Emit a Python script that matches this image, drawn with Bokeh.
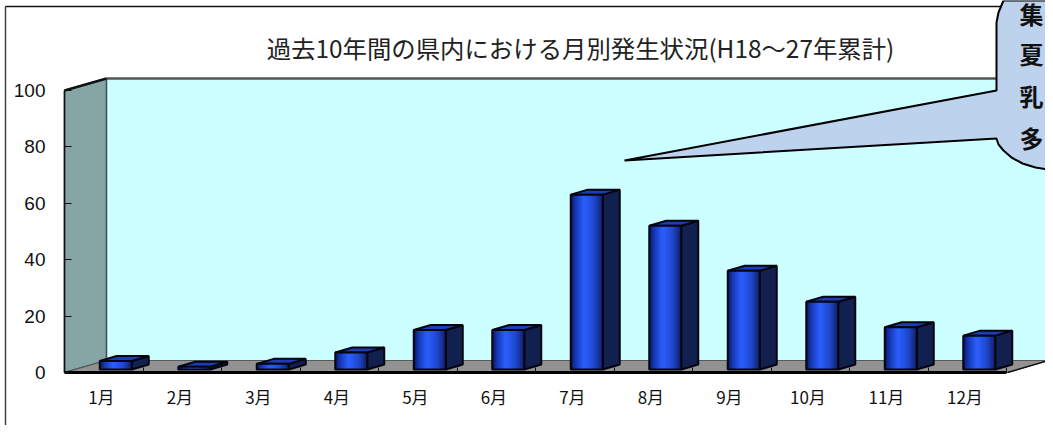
from bokeh.plotting import figure
from bokeh.models import Range1d, FixedTicker
from bokeh.core.properties import value
from bokeh.embed import file_html
from bokeh.resources import INLINE

months = ["1月", "2月", "3月", "4月", "5月", "6月", "7月", "8月", "9月", "10月", "11月", "12月"]
cases = [3, 1, 2, 6, 14, 14, 62, 51, 35, 24, 15, 12]
y_ticks = [0, 20, 40, 60, 80, 100]
title_text = "過去10年間の県内における月別発生状況(H18～27年累計)"
callout_chars = ["集", "夏", "乳", "多"]

W, H = 1045, 425
PAGE = 0
X0, STEP = 64, 78.5
Y0, UNIT = 372, 2.82
FONT = "Noto Sans CJK JP"


def dx(px):
    return px / STEP


def dy(px):
    return px / UNIT


def sx(px):
    return 0.5 + (px - X0) / STEP


def sy(py):
    return (Y0 - py) / UNIT


p = figure(width=W, height=H, output_backend="svg", toolbar_location=None,
           x_range=Range1d(sx(PAGE), sx(PAGE + W)), y_range=Range1d(sy(PAGE + H), sy(PAGE)),
           min_border=0, min_border_left=0, min_border_right=0, min_border_top=0, min_border_bottom=0,
           background_fill_color="white", border_fill_color="white", outline_line_color=None)
p.grid.visible = False

# chart-area frame (top and left only)
p.line([sx(5), sx(5)], [sy(433), sy(6)], line_color="#444444", line_width=1.5)
p.line([sx(5), sx(1000)], [sy(6), sy(6)], line_color="#111111", line_width=1.5)

# 3D box walls
p.patch([sx(106), sx(1048), sx(1048), sx(106)], [sy(78), sy(78), sy(360), sy(360)],
        fill_color="#ccffff", line_color=None)
p.line([sx(106), sx(1000)], [sy(78), sy(78)], line_color="#555555", line_width=2.5)
p.patch([sx(64), sx(106), sx(106), sx(64)], [sy(90), sy(78), sy(360), sy(372)],
        fill_color="#86a6a6", line_color="#3a4f4f", line_width=1.5)
p.line([sx(64), sx(106)], [sy(90), sy(78)], line_color="#111111", line_width=2.5)
p.patch([sx(64), sx(106), sx(1048), sx(1007)], [sy(372), sy(360), sy(360), sy(372)],
        fill_color="#929292", line_color="#5a5a5a", line_width=1)
p.line([sx(1007), sx(1048), sx(1048)], [sy(372), sy(360), sy(170)], line_color="#111111", line_width=1.5)

# 3D bars
BAR_SHIFT = dx(12)
BAR_W = dx(32)
BASE = dy(3)
SIDE_X, SIDE_Y = dx(17), dy(5)
stops = [(0.0, (8, 20, 80)), (0.12, (20, 50, 170)), (0.42, (42, 95, 255)),
         (0.75, (30, 70, 200)), (1.0, (14, 30, 100))]


def ramp(t):
    for (a, ca), (b, cb) in zip(stops, stops[1:]):
        if t <= b:
            f = (t - a) / (b - a)
            return "#%02x%02x%02x" % tuple(round(u + (v - u) * f) for u, v in zip(ca, cb))
    return "#0e1e64"


N = 16
for i, val in enumerate(cases):
    left = (i + 1) + BAR_SHIFT - BAR_W / 2
    right = left + BAR_W
    top = val + BASE
    p.patch([right, right + SIDE_X, right + SIDE_X, right], [BASE, BASE + SIDE_Y, top + SIDE_Y, top],
            fill_color="#12204f", line_color="#050510", line_width=2)
    p.patch([left, left + SIDE_X, right + SIDE_X, right], [top, top + SIDE_Y, top + SIDE_Y, top],
            fill_color="#1c3db5", line_color="#050510", line_width=2)
    w = BAR_W / N
    # strips overlap the next one so that no seams show between them
    p.quad(left=[left + k * w for k in range(N)], right=[min(right, left + (k + 2) * w) for k in range(N)],
           bottom=[BASE] * N, top=[top] * N, fill_color=[ramp((k + .5) / N) for k in range(N)], line_color=None)
    p.quad(left=[left], right=[right], bottom=[BASE], top=[top], fill_color=None,
           line_color="#050510", line_width=2)

# axes
xa = p.xaxis[0]
xa.fixed_location = 0
xa.bounds = (0.5, 12.5)
centers = [i + 1 for i in range(len(months))]
label_pos = [c - 0.03 for c in centers]
xa.ticker = FixedTicker(ticks=label_pos, minor_ticks=[c + 0.5 for c in centers])
xa.major_label_overrides = {c: m for c, m in zip(label_pos, months)}
xa.major_tick_line_color = None
xa.major_tick_in = 0
xa.major_tick_out = 0
xa.minor_tick_in = 5
xa.minor_tick_out = 0
xa.minor_tick_line_color = "#111111"
xa.axis_line_color = "#000000"
xa.axis_line_width = 3
xa.major_label_standoff = 11
xa.major_label_text_font = FONT
xa.major_label_text_font_size = "17px"
xa.major_label_text_color = "#111111"

ya = p.yaxis[0]
ya.fixed_location = 0.5
ya.bounds = (0, 100)
ya.ticker = FixedTicker(ticks=y_ticks)
ya.major_tick_in = 7
ya.major_tick_out = 0
ya.minor_tick_line_color = None
ya.major_tick_line_color = "#111111"
ya.axis_line_color = "#111111"
ya.axis_line_width = 1.5
ya.major_label_standoff = 19
ya.major_label_text_font = "Liberation Sans"
ya.major_label_text_font_size = "19px"
ya.major_label_text_color = "#111111"

# title
p.text([sx(580)], [sy(47)], text=[title_text], text_font=value(FONT), text_font_size="24.4px",
       text_align="center", text_baseline="middle", text_color="#222222")

# callout
cx = [624, 996, 996, 998, 1003, 1060, 1060, 1053, 1035, 1022, 1011, 1003, 998, 996]
cy = [160, 90, 22, 12, 0, 0, 172, 170, 167, 163, 157, 150, 144, 138]
p.patch([sx(v) for v in cx], [sy(v) for v in cy], fill_color="#bdd2ec", line_color="#000000", line_width=2)
p.text([sx(1031)] * 4, [sy(v) for v in (13, 53, 95, 137)], text=callout_chars,
       text_font=value(FONT), text_font_style="bold", text_font_size="24px",
       text_align="center", text_baseline="middle", text_color="#111111")

open("out.html", "w").write(file_html(p, INLINE))
